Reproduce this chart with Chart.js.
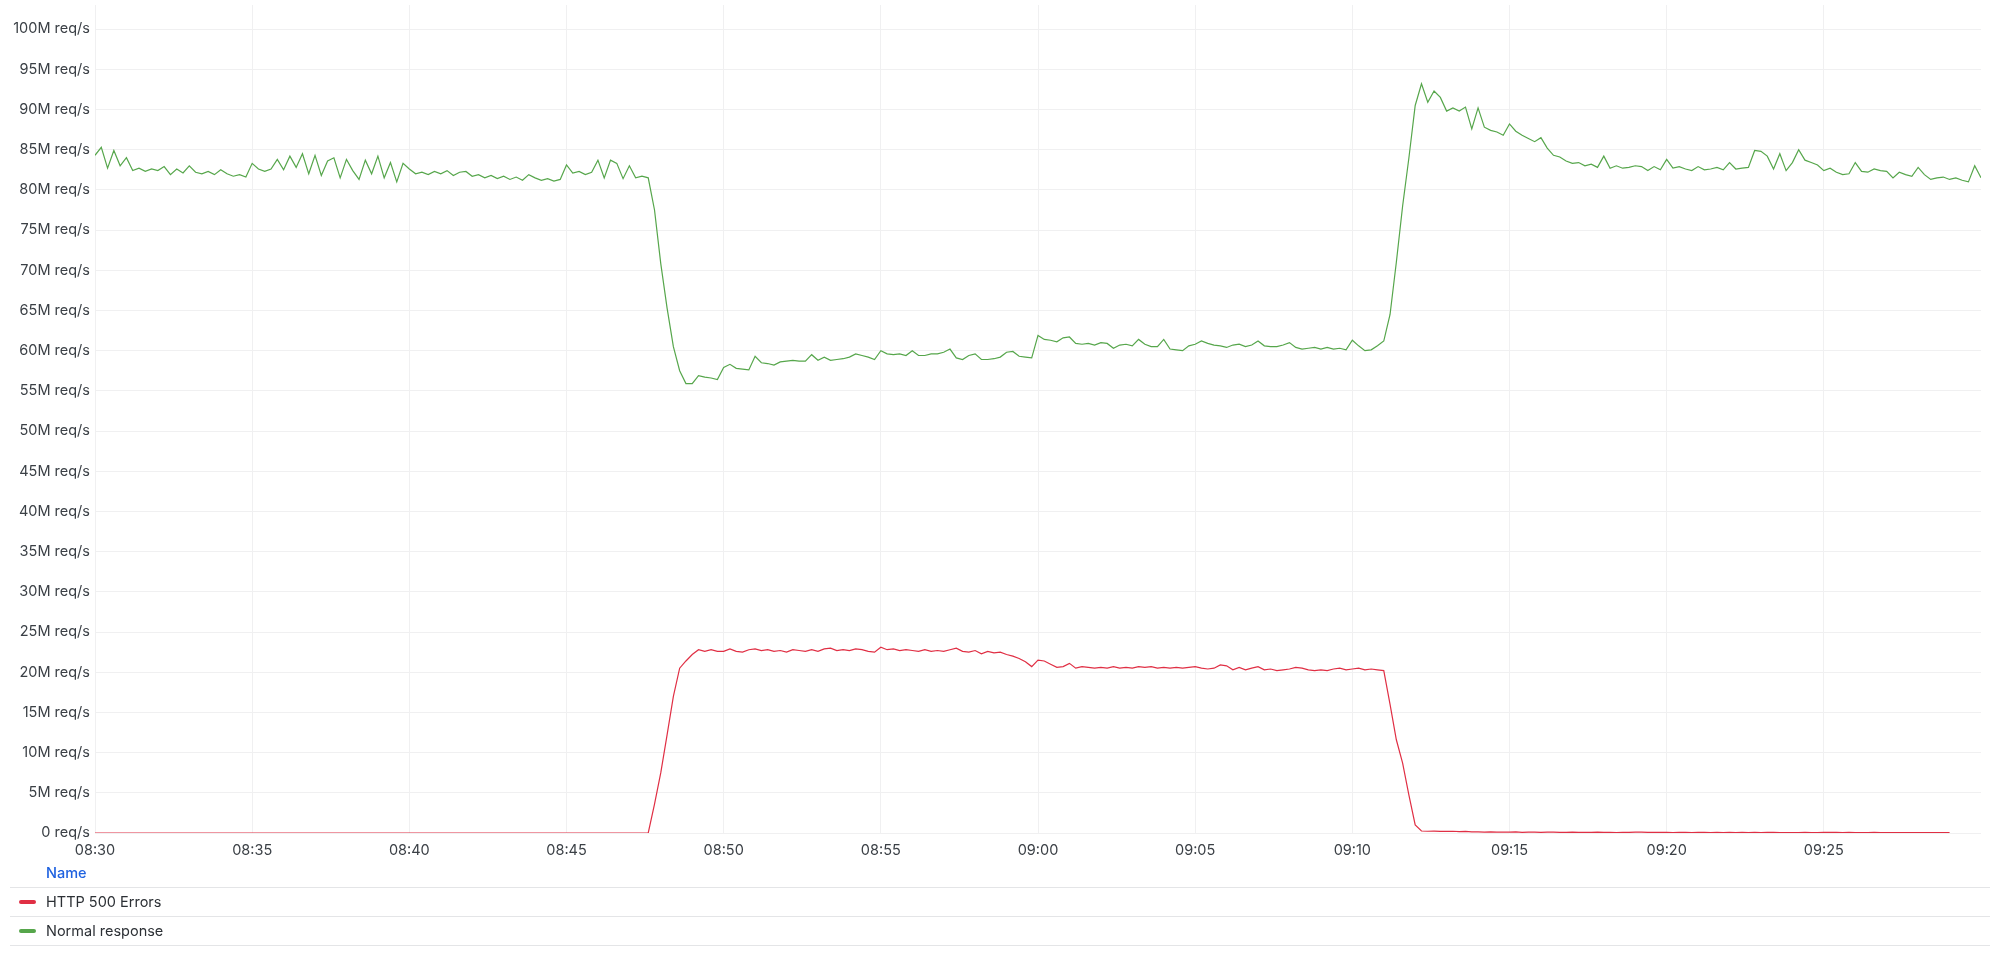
<!DOCTYPE html>
<html>
<head>
<meta charset="utf-8">
<script src="https://cdn.jsdelivr.net/npm/chart.js@4/dist/chart.umd.min.js"></script>
<style>
  html, body { margin: 0; padding: 0; background: #fff; }
  body { width: 1999px; height: 955px; position: relative; overflow: hidden; font-family: Inter, "Noto Sans", sans-serif; }
  #wrap { position: absolute; left: 0; top: 0; width: 1999px; height: 868px; }
  .legend { position: absolute; left: 10px; top: 862px; width: 1980px; font-size: 14.5px; color: #2c3035; }
  .legend .hdr { height: 25px; line-height: 22px; padding-left: 36px; color: #1f62e0; font-weight: 500; border-bottom: 1px solid #e4e5e7; }
  .legend .row { height: 28px; line-height: 28px; padding-left: 36px; position: relative; border-bottom: 1px solid #e4e5e7; }
  .legend .sw { position: absolute; left: 9px; top: 12px; width: 17px; height: 4px; border-radius: 2px; }
</style>
</head>
<body>
<div id="wrap"><canvas id="chart"></canvas></div>
<div class="legend" id="legend"></div>
<script>
// time axis: minutes after 08:30, one sample every 0.2 min (12 s)
const START = 0, STEP = 0.2;
const timeLabels = ['08:30', '08:35', '08:40', '08:45', '08:50', '08:55', '09:00', '09:05', '09:10', '09:15', '09:20', '09:25'];

// Normal response, M req/s (five samples per minute)
const normalResp = [
  84.3, 85.3, 82.7, 84.9, 83.0,
  84.0, 82.4, 82.7, 82.3, 82.6,
  82.4, 82.9, 81.9, 82.6, 82.1,
  83.0, 82.2, 82.0, 82.3, 81.9,
  82.5, 82.0, 81.7, 81.9, 81.6,
  83.3, 82.6, 82.3, 82.6, 83.8,
  82.5, 84.2, 82.8, 84.5, 82.0,
  84.3, 81.8, 83.6, 84.0, 81.5,
  83.8, 82.4, 81.3, 83.7, 82.0,
  84.2, 81.5, 83.4, 81.0, 83.3,
  82.6, 82.0, 82.2, 81.9, 82.3,
  82.0, 82.4, 81.8, 82.2, 82.3,
  81.7, 81.9, 81.5, 81.8, 81.4,
  81.7, 81.3, 81.6, 81.2, 81.9,
  81.5, 81.2, 81.4, 81.1, 81.3,
  83.1, 82.1, 82.3, 81.9, 82.2,
  83.7, 81.5, 83.7, 83.3, 81.4,
  83.0, 81.5, 81.7, 81.5, 77.5,
  70.8, 65.3, 60.5, 57.5, 55.9,
  55.9, 56.9, 56.7, 56.6, 56.4,
  57.9, 58.3, 57.8, 57.7, 57.6,
  59.3, 58.5, 58.4, 58.2, 58.6,
  58.7, 58.8, 58.7, 58.7, 59.5,
  58.8, 59.2, 58.8, 58.9, 59.0,
  59.2, 59.6, 59.4, 59.2, 58.9,
  60.0, 59.6, 59.5, 59.6, 59.4,
  60.0, 59.4, 59.4, 59.6, 59.6,
  59.8, 60.2, 59.1, 58.9, 59.4,
  59.6, 58.9, 58.9, 59.0, 59.2,
  59.8, 59.9, 59.3, 59.2, 59.1,
  61.9, 61.4, 61.3, 61.1, 61.6,
  61.7, 60.9, 60.8, 60.9, 60.7,
  61.0, 60.9, 60.3, 60.7, 60.8,
  60.6, 61.4, 60.8, 60.5, 60.5,
  61.4, 60.2, 60.1, 60.0, 60.6,
  60.8, 61.2, 60.9, 60.7, 60.6,
  60.4, 60.7, 60.8, 60.5, 60.7,
  61.2, 60.6, 60.5, 60.5, 60.7,
  61.0, 60.4, 60.2, 60.3, 60.4,
  60.2, 60.4, 60.2, 60.3, 60.1,
  61.3, 60.6, 60.0, 60.1, 60.6,
  61.2, 64.5, 71.0, 78.0, 84.0,
  90.5, 93.2, 90.9, 92.3, 91.5,
  89.8, 90.2, 89.8, 90.3, 87.6,
  90.2, 87.8, 87.4, 87.2, 86.8,
  88.2, 87.3, 86.8, 86.4, 86.0,
  86.5, 85.2, 84.3, 84.1, 83.6,
  83.3, 83.4, 83.0, 83.2, 82.8,
  84.2, 82.7, 83.0, 82.7, 82.8,
  83.0, 82.9, 82.4, 82.9, 82.5,
  83.8, 82.7, 82.9, 82.6, 82.4,
  82.9, 82.5, 82.6, 82.8, 82.5,
  83.4, 82.6, 82.7, 82.8, 84.9,
  84.8, 84.2, 82.6, 84.5, 82.4,
  83.4, 85.0, 83.7, 83.4, 83.1,
  82.4, 82.7, 82.2, 81.9, 82.0,
  83.4, 82.3, 82.2, 82.6, 82.4,
  82.3, 81.5, 82.2, 81.9, 81.7,
  82.8, 81.9, 81.3, 81.5, 81.6,
  81.3, 81.5, 81.2, 81.0, 83.0,
  81.5
];

// HTTP 500 Errors, M req/s
const http500 = [
  0, 0, 0, 0, 0,
  0, 0, 0, 0, 0,
  0, 0, 0, 0, 0,
  0, 0, 0, 0, 0,
  0, 0, 0, 0, 0,
  0, 0, 0, 0, 0,
  0, 0, 0, 0, 0,
  0, 0, 0, 0, 0,
  0, 0, 0, 0, 0,
  0, 0, 0, 0, 0,
  0, 0, 0, 0, 0,
  0, 0, 0, 0, 0,
  0, 0, 0, 0, 0,
  0, 0, 0, 0, 0,
  0, 0, 0, 0, 0,
  0, 0, 0, 0, 0,
  0, 0, 0, 0, 0,
  0, 0, 0, 0, 3.6,
  7.5, 12.2, 17.0, 20.5, 21.4,
  22.2, 22.8, 22.6, 22.8, 22.6,
  22.6, 22.9, 22.6, 22.5, 22.8,
  22.9, 22.7, 22.8, 22.6, 22.7,
  22.5, 22.8, 22.7, 22.6, 22.8,
  22.6, 22.9, 23.0, 22.7, 22.8,
  22.7, 22.9, 22.8, 22.6, 22.5,
  23.1, 22.8, 22.9, 22.7, 22.8,
  22.7, 22.6, 22.8, 22.6, 22.7,
  22.6, 22.8, 23.0, 22.6, 22.5,
  22.7, 22.3, 22.6, 22.4, 22.5,
  22.2, 22.0, 21.7, 21.3, 20.7,
  21.5, 21.4, 21.0, 20.6, 20.7,
  21.1, 20.5, 20.7, 20.6, 20.5,
  20.6, 20.5, 20.7, 20.5, 20.6,
  20.5, 20.7, 20.6, 20.7, 20.5,
  20.6, 20.5, 20.6, 20.5, 20.6,
  20.7, 20.5, 20.4, 20.5, 20.9,
  20.8, 20.3, 20.6, 20.3, 20.5,
  20.7, 20.3, 20.4, 20.2, 20.3,
  20.4, 20.6, 20.5, 20.3, 20.2,
  20.3, 20.2, 20.4, 20.5, 20.3,
  20.4, 20.5, 20.3, 20.4, 20.3,
  20.2, 16.0, 11.6, 8.7, 4.7,
  1.0, 0.25, 0.22, 0.24, 0.2,
  0.2, 0.22, 0.18, 0.2, 0.15,
  0.14, 0.12, 0.15, 0.11, 0.12,
  0.1, 0.13, 0.09, 0.11, 0.1,
  0.08, 0.1, 0.12, 0.09, 0.08,
  0.1, 0.07, 0.09, 0.08, 0.1,
  0.07, 0.08, 0.06, 0.09, 0.07,
  0.12, 0.1, 0.08, 0.09, 0.07,
  0.08, 0.06, 0.07, 0.09, 0.06,
  0.07, 0.08, 0.06, 0.07, 0.06,
  0.08, 0.06, 0.07, 0.05, 0.07,
  0.06, 0.08, 0.07, 0.06, 0.05,
  0.06, 0.05, 0.07, 0.06, 0.05,
  0.08, 0.07, 0.09, 0.06, 0.07,
  0.05, 0.06, 0.05, 0.07, 0.05,
  0.06, 0.05, 0.06, 0.05, 0.06,
  0.05, 0.06, 0.05, 0.05, 0.06,
  0.05
];

const series = [
  { name: 'HTTP 500 Errors', color: '#e02f44', values: http500 },
  { name: 'Normal response', color: '#56a64b', values: normalResp }
];

const tickCol = '#3b4046', gridCol = '#f0f0f1';
const tickFont = { family: 'Inter', size: 14.5 };

new Chart(document.getElementById('chart'), {
  type: 'line',
  data: {
    datasets: series.map(s => ({
      label: s.name,
      data: s.values.map((v, i) => ({ x: START + i * STEP, y: v })),
      borderColor: s.color, borderWidth: 1.2,
      pointRadius: 0, tension: 0, fill: false
    }))
  },
  options: {
    responsive: true, maintainAspectRatio: false, animation: false,
    layout: { padding: { left: 0, right: 18, top: 5, bottom: 0 } },
    plugins: { legend: { display: false }, tooltip: { enabled: false } },
    scales: {
      x: {
        type: 'linear', min: 0, max: 60,
        ticks: { stepSize: 5, color: tickCol, font: tickFont, padding: 9, maxRotation: 0, autoSkip: false,
                 callback: v => timeLabels[Math.round(v / 5)] || '' },
        afterBuildTicks: sc => { sc.ticks = sc.ticks.filter(t => t.value < 60); },
        afterFit: sc => { sc.height = 35; },
        grid: { color: gridCol, drawTicks: false },
        border: { display: false }
      },
      y: {
        min: 0, max: 103,
        ticks: { stepSize: 5, color: tickCol, font: tickFont, padding: 5,
                 callback: v => v === 0 ? '0 req/s' : v + 'M req/s' },
        afterBuildTicks: sc => { sc.ticks = sc.ticks.filter(t => t.value <= 100); },
        // top tick sits well below the plot top, so no label overhang is needed
        afterFit: sc => { sc.width = 95; sc.paddingTop = 0; sc.paddingBottom = 0; },
        grid: { color: gridCol, drawTicks: false },
        border: { display: false }
      }
    }
  }
});

// legend table under the plot
document.getElementById('legend').innerHTML = '<div class="hdr">Name</div>' +
  series.map(s => `<div class="row"><span class="sw" style="background:${s.color}"></span>${s.name}</div>`).join('');
</script>
</body>
</html>
